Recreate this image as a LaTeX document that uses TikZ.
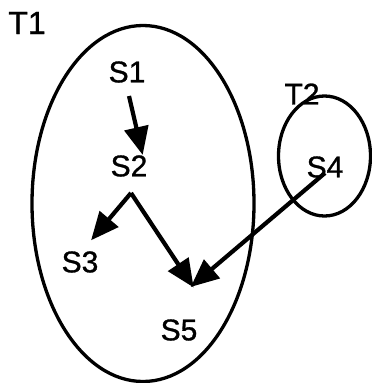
\documentclass[tikz,border=0pt]{standalone}
\usepackage{fontspec}
\setmainfont[FakeBold=1]{Liberation Sans}
\usetikzlibrary{arrows.meta}
\begin{document}
\begin{tikzpicture}[x=1pt,y=-1pt,
  lbl/.style={inner sep=0pt,font=\fontsize{30}{30}\selectfont},
  conn/.style={line width=4.2pt,-{Triangle[length=28pt,width=24pt]},shorten >=-3pt},
  bound/.style={line width=3.3pt}]
\useasboundingbox (0,0) rectangle (372,383);
\draw[bound] (143,203.5) ellipse [x radius=111, y radius=178];
\draw[bound] (324.5,156) ellipse [x radius=46, y radius=60];
\node[lbl,font=\fontsize{32}{32}\selectfont] (t1) at (27,23) {T1};
\node[lbl] (t2) at (302,94) {T2};
\node[lbl] (s1) at (127,72) {S1};
\node[lbl] (s2) at (129,166) {S2};
\node[lbl] (s3) at (80,262) {S3};
\node[lbl] (s4) at (325,167) {S4};
\node[lbl] (s5) at (179,330) {S5};
\coordinate (a1s) at (129,96);
\coordinate (a1e) at (142,152);
\coordinate (a2s) at (131,193);
\coordinate (a3e) at (93,238);
\coordinate (a5e) at (192,285);
\coordinate (a4s) at (325,173);
\coordinate (a4e) at (193,285);
\draw[conn] (a1s) -- (a1e);
\draw[conn] (a2s) -- (a3e);
\draw[conn] (a2s) -- (a5e);
\draw[conn] (a4s) -- (a4e);
\end{tikzpicture}
\end{document}
